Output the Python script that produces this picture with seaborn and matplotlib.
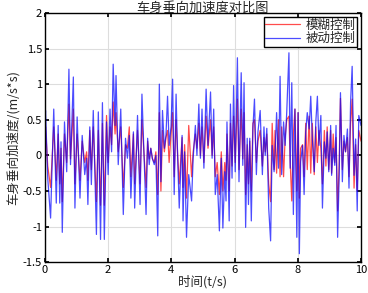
import numpy as np
import pandas as pd
import matplotlib
matplotlib.use('Agg')
import matplotlib.pyplot as plt
import seaborn as sns

# 时间点 (s)，以及两种控制下的车身垂向加速度 (m/s^2)
t = [0.00, 0.02, 0.09, 0.18, 0.28, 0.36, 0.42, 0.47, 0.51, 0.55, 0.62, 0.69, 0.76, 0.81, 0.90, 0.95,
     1.02, 1.11, 1.18, 1.26, 1.32, 1.36, 1.42, 1.47, 1.53, 1.63, 1.69, 1.76, 1.82, 1.88, 1.95,
     2.00, 2.06, 2.11, 2.16, 2.22, 2.25, 2.32, 2.40, 2.48, 2.55, 2.61, 2.67, 2.72, 2.80, 2.84, 2.93,
     3.01, 3.07, 3.20, 3.25, 3.30, 3.35, 3.40, 3.46, 3.51, 3.57, 3.62, 3.67, 3.72, 3.78, 3.83, 3.88, 3.93, 3.99,
     4.04, 4.09, 4.15, 4.20, 4.25, 4.34, 4.37, 4.42, 4.48, 4.55, 4.64, 4.69, 4.76, 4.81, 4.87, 4.92, 4.97,
     5.03, 5.10, 5.16, 5.24, 5.29, 5.34, 5.39, 5.45, 5.52, 5.58, 5.63, 5.69, 5.73, 5.76, 5.83, 5.87, 5.92, 5.97,
     6.02, 6.09, 6.14, 6.21, 6.26, 6.30, 6.35, 6.40, 6.44, 6.48, 6.53, 6.58, 6.63, 6.69, 6.74, 6.81, 6.88, 6.93, 6.97,
     7.02, 7.08, 7.14, 7.19, 7.25, 7.28, 7.33, 7.39, 7.44, 7.49, 7.55, 7.60, 7.65, 7.72, 7.76, 7.81, 7.86, 7.91, 7.97,
     8.01, 8.05, 8.09, 8.15, 8.20, 8.25, 8.30, 8.36, 8.41, 8.46, 8.52, 8.57, 8.62, 8.67, 8.73, 8.78, 8.84, 8.89, 8.93, 8.98,
     9.04, 9.07, 9.12, 9.17, 9.21, 9.26, 9.31, 9.35, 9.41, 9.46, 9.51, 9.57, 9.62, 9.67, 9.72, 9.78, 9.83, 9.88, 9.93, 10.00]

passive = [0.45, 0.63, -0.32, -0.88, 0.65, -0.67, 0.42, -0.67, 0.19, -1.08, 0.47, -0.23, 1.21, -0.13, 1.10, -0.74,
           0.54, -0.60, 0.28, -0.27, -0.04, -0.69, 0.40, -0.41, 0.63, -1.11, 0.61, -1.18, 0.74, -1.18, 0.47,
           -0.27, 0.65, 0.05, 1.28, 0.42, 1.12, -0.13, 0.65, -0.83, 0.24, -0.04, 0.28, -0.60, 0.33, -0.74, 0.56,
           -0.69, 0.86, -0.83, 0.24, -0.13, 0.10, -0.04, -0.13, 0.00, -1.13, 1.00, -0.37, 0.63, 0.10, 0.28, 0.83, 0.14, 0.40,
           1.07, -0.55, 0.86, -0.04, -0.74, 0.28, -0.92, 0.05, -1.15, -0.27, -0.64, -0.04, 0.42, 0.00, 0.72, -0.04, 0.65,
           -0.18, 0.93, 0.14, 0.89, -0.04, 0.65, -0.55, -0.27, -1.06, -0.04, -1.02, -0.23, -0.64, 0.47, -0.92, 0.72, -0.32, 0.98,
           -0.23, 1.37, -0.37, 1.16, -0.14, 1.02, -1.01, 0.24, -0.69, 0.24, -0.92, 0.38, 0.79, -0.27, 0.33, 0.63, -0.27, 0.40, 0.00,
           0.38, -0.74, -1.20, 0.14, -0.23, 0.00, 0.60, -0.18, 1.11, -0.27, 0.47, 0.14, 0.60, 1.44, -0.18, 1.02, -0.83, 0.65, -1.15,
           0.60, -1.38, -0.09, 0.14, -0.55, 0.32, 0.60, 0.37, 0.83, 0.23, -0.23, 0.47, 0.83, 0.14, 0.56, -0.74, 0.19, -0.04, 0.33, -0.23,
           0.42, -0.28, 0.10, -0.14, 0.42, -1.15, -0.28, 0.88, -0.37, 0.28, 0.05, 0.37, -0.46, 0.74, 1.25, -0.28, 0.23, -0.78, 0.56, 0.42]

fuzzy = [0.30, 0.40, -0.15, -0.45, 0.40, -0.35, 0.30, -0.40, 0.10, -0.65, 0.30, -0.10, 0.72, -0.05, 0.65, -0.40,
         0.30, -0.35, 0.20, -0.10, 0.05, -0.35, 0.35, -0.20, 0.40, -0.65, 0.35, -0.70, 0.45, -0.70, 0.56,
         -0.10, 0.40, 0.15, 0.75, 0.30, 0.60, 0.05, 0.40, -0.45, 0.15, 0.10, 0.40, -0.30, 0.30, -0.40, 0.35,
         -0.40, 0.50, -0.45, 0.20, -0.05, 0.10, -0.05, -0.10, 0.05, -0.55, 0.60, -0.50, 0.35, 0.05, 0.25, 0.35, -0.10, 0.30,
         0.60, -0.30, 0.50, 0.00, -0.40, 0.25, -0.45, 0.15, -0.60, 0.42, -0.30, 0.05, 0.30, 0.10, 0.45, 0.00, 0.40,
         -0.10, 0.55, 0.10, 0.50, 0.00, 0.40, -0.30, -0.10, -0.55, 0.05, -0.50, -0.10, -0.35, 0.30, -0.50, 0.45, -0.15, 0.55,
         -0.10, 0.79, -0.20, 0.65, -0.05, 0.60, -0.55, 0.15, -0.40, 0.20, -0.50, 0.45, 0.50, -0.10, 0.20, 0.35, -0.15, 0.25, 0.05,
         0.30, -0.40, -0.65, 0.45, -0.20, 0.35, -0.25, 0.50, -0.30, 0.40, -0.30, 0.25, 0.50, 0.55, -0.10, -0.64, 0.30, 0.65, -0.50,
         0.60, -0.60, 0.10, 0.15, -0.30, 0.45, -0.20, 0.55, -0.25, 0.45, -0.27, 0.40, -0.10, 0.35, 0.10, -0.40, 0.35, -0.15, 0.40, -0.20,
         0.35, -0.25, 0.30, -0.10, 0.25, -0.78, -0.10, 0.80, -0.20, 0.20, 0.05, 0.25, -0.30, 0.45, 0.79, -0.46, 0.15, -0.50, 0.35, 0.20]

labels = ['模糊控制', '被动控制']
yticks = [-1.5, -1, -0.5, 0, 0.5, 1, 1.5, 2]
xticks = [0, 2, 4, 6, 8, 10]

sns.set_theme(style='ticks')
plt.rcParams['font.family'] = ['Noto Sans CJK SC', 'DejaVu Sans']
plt.rcParams['axes.unicode_minus'] = False

df = pd.DataFrame({'t': t * 2,
                   'a': fuzzy + passive,
                   '工况': [labels[0]] * len(t) + [labels[1]] * len(t)})

fig = plt.figure(figsize=(3.68, 2.93), dpi=100)
ax = fig.add_axes([0.122, 0.105, 0.859, 0.851])

sns.lineplot(data=df, x='t', y='a', hue='工况', palette=['#ff0000', '#0000ff'],
             sort=False, estimator=None, linewidth=0.9, alpha=0.7, ax=ax)

ax.set_xlim(0, 10)
ax.set_ylim(-1.5, 2)
ax.set_xticks(xticks)
ax.set_yticks(yticks)
ax.set_yticklabels(['-1.5', '-1', '-0.5', '0', '0.5', '1', '1.5', '2'])
ax.grid(True, color='#dddddd', linewidth=0.8)
ax.tick_params(direction='in', length=3, labelsize=8, pad=2, top=True, right=True, colors='black')
for s in ax.spines.values():
    s.set_visible(True)
    s.set_color('black')
    s.set_linewidth(1.0)

ax.set_title('车身垂向加速度对比图', fontsize=9.5, fontweight='medium', pad=1)
ax.set_xlabel('时间(t/s)', fontsize=9, labelpad=0)
ax.set_ylabel('车身垂向加速度/(m/s*s)', fontsize=9, labelpad=2)

leg = ax.legend(loc='upper right', fontsize=9, frameon=True, fancybox=False,
                handlelength=2.8, borderpad=0.15, labelspacing=0.05, handletextpad=0.4,
                borderaxespad=0.3)
leg.get_frame().set_edgecolor('black')
leg.get_frame().set_linewidth(1.0)
leg.get_frame().set_alpha(1)

fig.savefig('out.png', dpi=100)
